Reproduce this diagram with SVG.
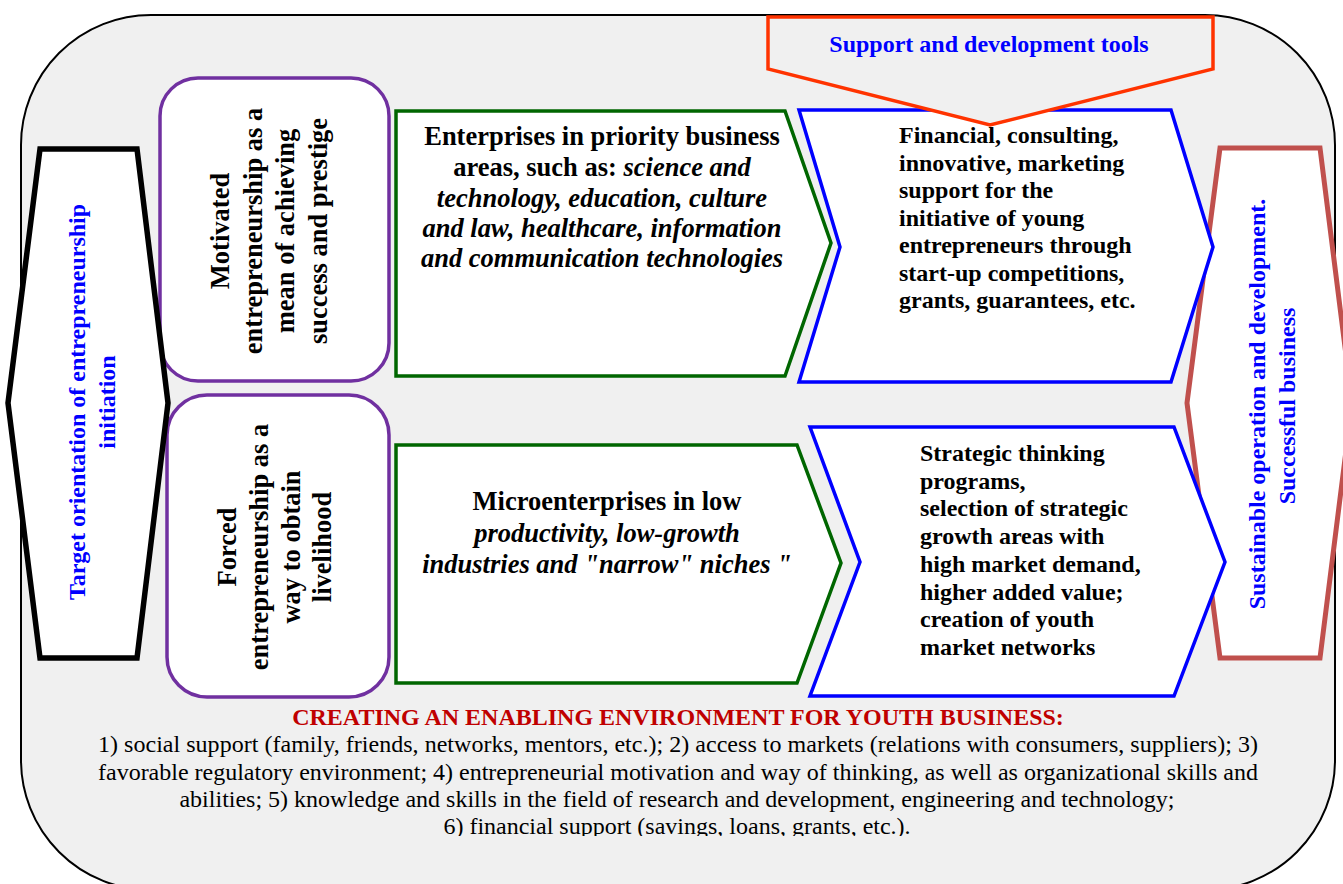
<svg xmlns="http://www.w3.org/2000/svg" width="1343" height="884" viewBox="0 0 1343 884">
<style>
.t{font-family:"Liberation Serif","Times New Roman",serif;}
.b{font-weight:bold;}
.i{font-style:italic;}
.blue{fill:#0000ff;}
.blk{fill:#000;}
.purple{fill:#fff;stroke:#7030a0;stroke-width:3.5;}
.green{fill:#fff;stroke:#006600;stroke-width:3.5;}
.bluebox{fill:#fff;stroke:#0000ff;stroke-width:3.5;}
</style>
<defs>
<clipPath id="clipBottom"><rect x="0" y="0" width="1343" height="836"/></clipPath>
</defs>
<g id="background">
<rect x="21" y="15" width="1314" height="875" rx="130" ry="130" fill="#f0f0f0" stroke="#000" stroke-width="2"/>
</g>
<g id="motivated">
<rect class="purple" x="160" y="78" width="229" height="303" rx="38"/>
<g transform="translate(0,231) rotate(-90)" class="t b blk" font-size="26.5" text-anchor="middle">
<text x="0" y="229">Motivated</text>
<text x="0" y="261.5">entrepreneurship as a</text>
<text x="0" y="294">mean of achieving</text>
<text x="0" y="326.5">success and prestige</text>
</g>
</g>
<g id="forced">
<rect class="purple" x="167" y="395" width="222" height="302" rx="40"/>
<g transform="translate(0,547) rotate(-90)" class="t b blk" font-size="26.5" text-anchor="middle">
<text x="0" y="236">Forced</text>
<text x="0" y="267.5">entrepreneurship as a</text>
<text x="0" y="300">way to obtain</text>
<text x="0" y="331">livelihood</text>
</g>
</g>
<g id="target">
<polygon points="40,149 137,149 168,403 137,658 40,658 8,403" fill="#fff" stroke="#000" stroke-width="5.5"/>
<g transform="translate(0,402) rotate(-90)" class="t b blue" font-size="24" text-anchor="middle">
<text x="0" y="85">Target orientation of entrepreneurship</text>
<text x="0" y="115">initiation</text>
</g>
</g>
<g id="sustainable">
<polygon points="1220,148 1320,148 1352,403 1320,658 1220,658 1187,403" fill="#fff" stroke="#c0504d" stroke-width="5"/>
<g transform="translate(0,404) rotate(-90)" class="t b blue" font-size="24" text-anchor="middle">
<text x="0" y="1265">Sustainable operation and development.</text>
<text x="-2" y="1295">Successful business</text>
</g>
</g>
<g id="priority">
<polygon class="green" points="396,111 785,111 831,243 785,376 396,376"/>
<g class="t b blk" font-size="26.5" text-anchor="middle">
<text x="602" y="145">Enterprises in priority business</text>
<text x="602" y="176">areas, such as: <tspan class="i">science and</tspan></text>
<text x="602" y="207" class="i">technology, education, culture</text>
<text x="602" y="237" class="i">and law, healthcare, information</text>
<text x="602" y="267" class="i">and communication technologies</text>
</g>
</g>
<g id="micro">
<polygon class="green" points="396,445 797,445 841,563 797,683 396,683"/>
<g class="t b blk" font-size="26.5" text-anchor="middle">
<text x="607" y="510">Microenterprises in low</text>
<text x="607" y="542" class="i">productivity, low-growth</text>
<text x="607" y="573" class="i">industries and "narrow" niches "</text>
</g>
</g>
<g id="financial">
<polygon class="bluebox" points="799,110 1171,110 1213,247 1171,382 799,382 840,247"/>
<g class="t b blk" font-size="24">
<text x="899" y="143">Financial, consulting,</text>
<text x="899" y="170.5">innovative, marketing</text>
<text x="899" y="198">support for the</text>
<text x="899" y="225.5">initiative of young</text>
<text x="899" y="253">entrepreneurs through</text>
<text x="899" y="280.5">start-up competitions,</text>
<text x="899" y="308">grants, guarantees, etc.</text>
</g>
</g>
<g id="strategic">
<polygon class="bluebox" points="810,427 1174,427 1225,562 1174,696 810,696 860,562"/>
<g class="t b blk" font-size="24">
<text x="920" y="461">Strategic thinking</text>
<text x="920" y="489">programs,</text>
<text x="920" y="516">selection of strategic</text>
<text x="920" y="544">growth areas with</text>
<text x="920" y="572">high market demand,</text>
<text x="920" y="600">higher added value;</text>
<text x="920" y="627">creation of youth</text>
<text x="920" y="655">market networks</text>
</g>
</g>
<g id="tools">
<polygon points="768,17 1213,17 1213,69 990,125 768,69" fill="#f0f0f0" stroke="#ff3300" stroke-width="3.5"/>
<text class="t b blue" font-size="24" x="989" y="52" text-anchor="middle">Support and development tools</text>
</g>
<g id="connectors"></g>
<g id="environment" class="t" text-anchor="middle">
<text x="678" y="725" class="b" font-size="24" fill="#c00000">CREATING AN ENABLING ENVIRONMENT FOR YOUTH BUSINESS:</text>
<g font-size="24" fill="#000" clip-path="url(#clipBottom)">
<text x="678" y="752" textLength="1160">1) social support (family, friends, networks, mentors, etc.); 2) access to markets (relations with consumers, suppliers); 3)</text>
<text x="678" y="780" textLength="1160">favorable regulatory environment; 4) entrepreneurial motivation and way of thinking, as well as organizational skills and</text>
<text x="677" y="807">abilities; 5) knowledge and skills in the field of research and development, engineering and technology;</text>
<text x="677" y="834">6) financial support (savings, loans, grants, etc.).</text>
</g>
</g>
</svg>
